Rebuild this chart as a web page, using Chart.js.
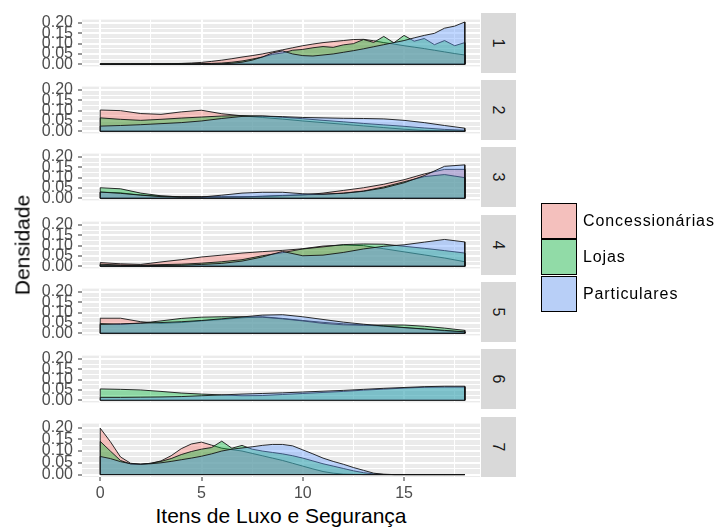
<!DOCTYPE html>
<html>
<head>
<meta charset="utf-8">
<script src="https://cdn.jsdelivr.net/npm/chart.js@4.4.1/dist/chart.umd.min.js"></script>
<style>
  html, body { margin: 0; padding: 0; background: #ffffff; }
  #wrap { position: relative; width: 716px; height: 527px; overflow: hidden;
          font-family: "Liberation Sans", Arial, sans-serif; }
  .panel { position: absolute; left: 0; }
  .strip { position: absolute; left: 481px; width: 35px; height: 60px; background: #d9d9d9;
           display: flex; align-items: center; justify-content: center; }
  .strip span { display: block; transform: rotate(90deg); font-size: 16px; color: #1a1a1a; }
  .title { position: absolute; color: #000; font-size: 21px; white-space: nowrap; line-height: 21px; }
  .key { position: absolute; left: 541px; width: 36px; height: 36px; box-sizing: border-box;
         border: 1.5px solid #000; background: #f2f2f2; }
  .key div { width: 100%; height: 100%; }
  .keylab { position: absolute; left: 583px; height: 36px; display: flex; align-items: center;
            font-size: 16px; letter-spacing: 0.9px; color: #000; white-space: nowrap; }
</style>
</head>
<body>
<div id="wrap"></div>
<script>
// Grupos de vendedores e facetas (número de itens)
const groups = ['Concessionárias', 'Lojas', 'Particulares'];
const facets = ['1', '2', '3', '4', '5', '6', '7'];

// Pontos de avaliação da densidade
const xFine = [0, 0.5, 1, 1.5, 2, 2.5, 3, 3.5, 4, 4.5, 5, 5.5, 6, 6.5, 7, 7.5, 8, 8.5, 9, 9.5,
               10, 10.5, 11, 11.5, 12, 12.5, 13, 13.5, 14, 14.5, 15, 15.5, 16, 16.5, 17, 17.5, 18];
const xInt = [0, 1, 2, 3, 4, 5, 6, 7, 8, 9, 10, 11, 12, 13, 14, 15, 16, 17, 18];

// Faceta 1
const conc1 = [0.002, 0.002, 0.002, 0.002, 0.002, 0.002, 0.002, 0.003, 0.004, 0.006, 0.009, 0.014, 0.020, 0.027,
               0.035, 0.042, 0.050, 0.060, 0.070, 0.080, 0.090, 0.098, 0.105, 0.110, 0.115, 0.120, 0.121, 0.114,
               0.105, 0.098, 0.090, 0.083, 0.076, 0.068, 0.060, 0.052, 0.045];
const lojas1 = [0.002, 0.002, 0.002, 0.002, 0.002, 0.002, 0.002, 0.002, 0.002, 0.002, 0.003, 0.004, 0.006, 0.010,
                0.016, 0.025, 0.035, 0.048, 0.055, 0.068, 0.072, 0.080, 0.086, 0.082, 0.094, 0.100, 0.120, 0.106,
                0.135, 0.104, 0.140, 0.112, 0.125, 0.095, 0.115, 0.090, 0.105];
const part1 = [0.001, 0.001, 0.001, 0.001, 0.001, 0.001, 0.001, 0.001, 0.001, 0.001, 0.001, 0.001, 0.002, 0.005,
               0.010, 0.020, 0.035, 0.055, 0.065, 0.050, 0.042, 0.040, 0.045, 0.050, 0.058, 0.066, 0.075, 0.085,
               0.095, 0.105, 0.115, 0.128, 0.140, 0.150, 0.175, 0.185, 0.205];

// Faceta 2
const conc2 = [0.103, 0.100, 0.086, 0.082, 0.094, 0.102, 0.085, 0.075, 0.067, 0.059, 0.050, 0.042, 0.034, 0.026, 0.018, 0.010, 0.004, 0.002, 0.001];
const lojas2 = [0.065, 0.058, 0.053, 0.058, 0.064, 0.069, 0.074, 0.076, 0.074, 0.068, 0.061, 0.053, 0.046, 0.038, 0.031, 0.024, 0.016, 0.009, 0.005];
const part2 = [0.025, 0.028, 0.032, 0.037, 0.042, 0.050, 0.062, 0.072, 0.074, 0.071, 0.067, 0.065, 0.063, 0.062, 0.060, 0.053, 0.042, 0.028, 0.015];

// Faceta 3
const conc3 = [0.030, 0.026, 0.016, 0.010, 0.008, 0.008, 0.008, 0.008, 0.009, 0.012, 0.016, 0.025, 0.038, 0.051, 0.068, 0.090, 0.118, 0.140, 0.140];
const lojas3 = [0.051, 0.046, 0.025, 0.012, 0.006, 0.005, 0.005, 0.006, 0.010, 0.014, 0.017, 0.019, 0.025, 0.035, 0.055, 0.080, 0.105, 0.115, 0.100];
const part3 = [0.030, 0.024, 0.015, 0.008, 0.005, 0.006, 0.015, 0.025, 0.029, 0.029, 0.022, 0.020, 0.024, 0.034, 0.050, 0.075, 0.110, 0.155, 0.162];

// Faceta 4
const conc4 = [0.018, 0.012, 0.009, 0.021, 0.032, 0.045, 0.054, 0.064, 0.071, 0.077, 0.085, 0.098, 0.103, 0.100, 0.085, 0.070, 0.055, 0.040, 0.022];
const lojas4 = [0.010, 0.006, 0.005, 0.008, 0.010, 0.015, 0.022, 0.032, 0.051, 0.066, 0.084, 0.094, 0.105, 0.108, 0.107, 0.097, 0.087, 0.076, 0.064];
const part4 = [0.005, 0.004, 0.003, 0.004, 0.005, 0.009, 0.014, 0.025, 0.045, 0.072, 0.051, 0.054, 0.067, 0.084, 0.097, 0.104, 0.117, 0.130, 0.118];

// Faceta 5
const conc5 = [0.073, 0.073, 0.056, 0.048, 0.052, 0.060, 0.067, 0.075, 0.080, 0.072, 0.062, 0.053, 0.046, 0.040, 0.034, 0.027, 0.020, 0.012, 0.006];
const lojas5 = [0.047, 0.043, 0.049, 0.060, 0.072, 0.078, 0.080, 0.080, 0.078, 0.070, 0.060, 0.048, 0.041, 0.039, 0.040, 0.040, 0.034, 0.025, 0.014];
const part5 = [0.043, 0.046, 0.049, 0.052, 0.056, 0.062, 0.070, 0.079, 0.088, 0.090, 0.080, 0.067, 0.054, 0.044, 0.035, 0.028, 0.021, 0.014, 0.007];

// Faceta 6 (sem concessionárias)
const conc6 = null;
const lojas6 = [0.055, 0.053, 0.050, 0.043, 0.035, 0.030, 0.026, 0.022, 0.023, 0.028, 0.033, 0.038, 0.043, 0.049, 0.054, 0.059, 0.063, 0.064, 0.064];
const part6 = [0.014, 0.014, 0.015, 0.016, 0.018, 0.022, 0.026, 0.030, 0.033, 0.036, 0.040, 0.044, 0.048, 0.053, 0.058, 0.062, 0.066, 0.068, 0.068];

// Faceta 7
const conc7 = [0.197, 0.140, 0.075, 0.048, 0.044, 0.048, 0.058, 0.080, 0.110, 0.130, 0.138, 0.125, 0.112, 0.106,
               0.100, 0.090, 0.080, 0.070, 0.060, 0.048, 0.036, 0.024, 0.013, 0.006, 0.002, 0.001, 0, 0,
               0, 0, 0, 0, 0, 0, 0, 0, 0];
const lojas7 = [0.141, 0.100, 0.060, 0.045, 0.044, 0.048, 0.056, 0.068, 0.085, 0.098, 0.108, 0.115, 0.142, 0.112,
                0.124, 0.108, 0.100, 0.094, 0.088, 0.080, 0.070, 0.058, 0.046, 0.036, 0.026, 0.016, 0.008, 0.003,
                0.001, 0, 0, 0, 0, 0, 0, 0, 0];
const part7 = [0.077, 0.068, 0.055, 0.046, 0.044, 0.046, 0.050, 0.056, 0.063, 0.070, 0.078, 0.088, 0.100, 0.108,
               0.113, 0.118, 0.124, 0.128, 0.128, 0.122, 0.105, 0.088, 0.070, 0.056, 0.044, 0.030, 0.018, 0.006,
               0.001, 0, 0, 0, 0, 0, 0, 0, 0];

// Marcas dos eixos
const xTickValues = [0, 5, 10, 15];
const xTickLabels = ['0', '5', '10', '15'];
const xMinorTicks = [2.5, 7.5, 12.5, 17.5];
const yTickValues = [0, 0.05, 0.10, 0.15, 0.20];
const yTickLabels = ['0.00', '0.05', '0.10', '0.15', '0.20'];
const yMinorTicks = [0.025, 0.075, 0.125, 0.175];

const panels = [
  { x: xFine, series: [conc1, lojas1, part1] },
  { x: xInt,  series: [conc2, lojas2, part2] },
  { x: xInt,  series: [conc3, lojas3, part3] },
  { x: xInt,  series: [conc4, lojas4, part4] },
  { x: xInt,  series: [conc5, lojas5, part5] },
  { x: xInt,  series: [conc6, lojas6, part6] },
  { x: xFine, series: [conc7, lojas7, part7] }
];

const fills = ['rgba(248,118,109,0.4)', 'rgba(0,186,56,0.4)', 'rgba(97,156,255,0.4)'];
const outline = 'rgba(20,20,20,0.9)';
const FONT = '"Liberation Sans", Arial, sans-serif';

// Layout of the facet panels
const panelTops = [13, 80, 147, 215, 282, 349, 417];
const PANEL_H = 60, PAD = 8, AXIS_W = 82, PANEL_RIGHT = 480, XAXIS_H = 26;

Chart.defaults.font.family = FONT;

// grey panel background behind the grid
const panelBg = {
  id: 'panelBg',
  beforeDraw(chart) {
    const { ctx, chartArea: a } = chart;
    ctx.save();
    ctx.fillStyle = '#ebebeb';
    ctx.fillRect(a.left, a.top, a.right - a.left, a.bottom - a.top);
    ctx.restore();
  }
};

// closes each density polygon along the zero line
const baseOutline = {
  id: 'baseOutline',
  afterDatasetDraw(chart, args) {
    const pts = args.meta.data;
    if (!pts.length) return;
    const { ctx } = chart;
    const y0 = chart.scales.y.getPixelForValue(0);
    ctx.save();
    ctx.strokeStyle = outline;
    ctx.lineWidth = 1;
    ctx.beginPath();
    ctx.moveTo(pts[0].x, y0);
    ctx.lineTo(pts[pts.length - 1].x, y0);
    ctx.stroke();
    ctx.restore();
  }
};

function polygonPoints(xs, ys) {
  const pts = [{ x: xs[0], y: 0 }];
  xs.forEach((x, i) => pts.push({ x: x, y: ys[i] }));
  pts.push({ x: xs[xs.length - 1], y: 0 });
  return pts;
}

const wrap = document.getElementById('wrap');

panels.forEach((p, idx) => {
  const last = idx === panels.length - 1;
  const h = PAD + PANEL_H + (last ? XAXIS_H : PAD);
  const canvas = document.createElement('canvas');
  canvas.className = 'panel';
  canvas.width = PANEL_RIGHT;
  canvas.height = h;
  canvas.style.top = (panelTops[idx] - PAD) + 'px';
  canvas.style.width = PANEL_RIGHT + 'px';
  canvas.style.height = h + 'px';
  wrap.appendChild(canvas);

  const datasets = [];
  p.series.forEach((ys, g) => {
    if (!ys) return;
    datasets.push({
      label: groups[g],
      data: polygonPoints(p.x, ys),
      order: 3 - g,
      fill: 'origin',
      backgroundColor: fills[g],
      borderColor: outline,
      borderWidth: 1,
      pointRadius: 0,
      tension: 0
    });
  });

  new Chart(canvas, {
    type: 'line',
    data: { datasets },
    options: {
      responsive: false,
      animation: false,
      devicePixelRatio: 1,
      events: [],
      layout: { padding: { top: PAD, bottom: last ? 0 : PAD, left: 0, right: 0 } },
      plugins: { legend: { display: false }, tooltip: { enabled: false } },
      scales: {
        x: {
          type: 'linear', min: -0.9, max: 18.75,
          afterBuildTicks: axis => {
            axis.ticks = xTickValues.concat(xMinorTicks).sort((a, b) => a - b).map(v => ({ value: v }));
          },
          afterFit: s => { s.height = last ? XAXIS_H : 0; },
          border: { display: false },
          grid: {
            color: '#ffffff',
            lineWidth: c => (c.tick && xTickValues.includes(c.tick.value)) ? 2 : 1,
            drawTicks: last,
            tickLength: 4,
            tickWidth: 1,
            tickColor: c => (c.tick && xTickValues.includes(c.tick.value)) ? '#333333' : 'rgba(0,0,0,0)'
          },
          ticks: {
            display: last, autoSkip: false, maxRotation: 0, padding: 3,
            color: '#4d4d4d', font: { family: FONT, size: 16 },
            callback: v => { const i = xTickValues.indexOf(v); return i >= 0 ? xTickLabels[i] : ''; }
          }
        },
        y: {
          type: 'linear', min: -0.0103, max: 0.2166,
          afterBuildTicks: axis => {
            axis.ticks = yTickValues.concat(yMinorTicks).sort((a, b) => a - b).map(v => ({ value: v }));
          },
          afterFit: s => { s.width = AXIS_W; },
          border: { display: false },
          grid: {
            color: '#ffffff',
            lineWidth: c => (c.tick && yTickValues.includes(c.tick.value)) ? 2 : 1,
            drawTicks: true,
            tickLength: 4,
            tickWidth: 1,
            tickColor: c => (c.tick && yTickValues.includes(c.tick.value)) ? '#333333' : 'rgba(0,0,0,0)'
          },
          ticks: {
            autoSkip: false, padding: 5,
            color: '#4d4d4d', font: { family: FONT, size: 16 },
            callback: v => { const i = yTickValues.indexOf(v); return i >= 0 ? yTickLabels[i] : ''; }
          }
        }
      }
    },
    plugins: [panelBg, baseOutline]
  });

  // facet strip on the right
  const strip = document.createElement('div');
  strip.className = 'strip';
  strip.style.top = panelTops[idx] + 'px';
  strip.innerHTML = '<span>' + facets[idx] + '</span>';
  wrap.appendChild(strip);
});

// axis titles
const xt = document.createElement('div');
xt.className = 'title';
xt.textContent = 'Itens de Luxo e Segurança';
xt.style.left = '281px';
xt.style.top = '505px';
xt.style.transform = 'translateX(-50%)';
wrap.appendChild(xt);

const yt = document.createElement('div');
yt.className = 'title';
yt.textContent = 'Densidade';
yt.style.left = '22px';
yt.style.top = '245px';
yt.style.transform = 'translate(-50%, -50%) rotate(-90deg)';
wrap.appendChild(yt);

// legend
const keyTop = 203, keyStep = 36.3;
groups.forEach((name, g) => {
  const key = document.createElement('div');
  key.className = 'key';
  key.style.top = (keyTop + keyStep * g) + 'px';
  key.innerHTML = '<div style="background:' + fills[g] + '"></div>';
  wrap.appendChild(key);
  const lab = document.createElement('div');
  lab.className = 'keylab';
  lab.style.top = (keyTop + keyStep * g) + 'px';
  lab.textContent = name;
  wrap.appendChild(lab);
});
</script>
</body>
</html>
